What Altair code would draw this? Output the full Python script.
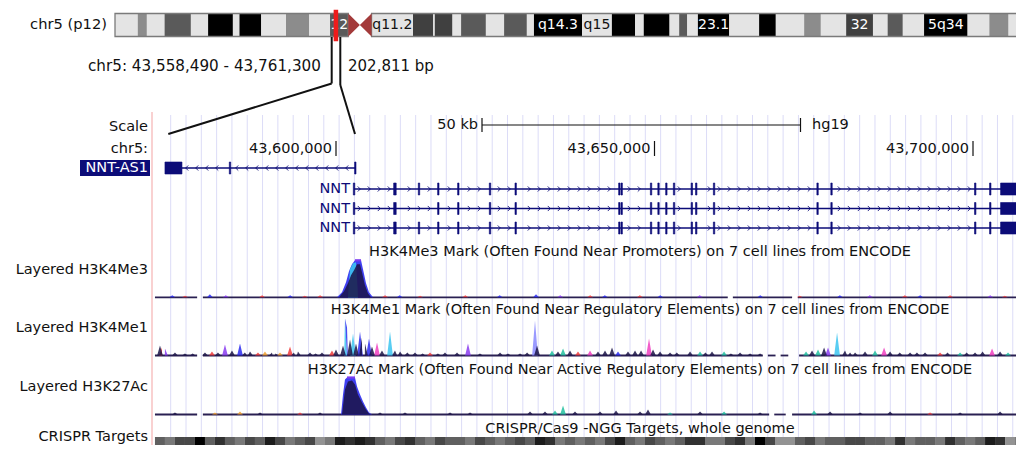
import altair as alt
import pandas as pd

W, H = 1008, 437
FONT = "DejaVu Sans"
NAVY = "#0c0c78"
INK = "#111111"

# ---------------- chromosome ideogram (chr5, hg19, Mb) ----------------
BAND_NAME = ["p15.33","p15.32","p15.31","p15.2","p15.1","p14.3","p14.2","p14.1","p13.3","p13.2",
             "p13.1","p12","p11","q11.1","q11.2","q12.1","q12.2","q12.3","q13.1","q13.2",
             "q13.3","q14.1","q14.2","q14.3","q15","q21.1","q21.2","q21.3","q22.1","q22.2",
             "q22.3","q23.1","q23.2","q23.3","q31.1","q31.2","q31.3","q32","q33.1","q33.2",
             "q33.3","q34","q35.1","q35.2","q35.3"]
BAND_START = [0, 4.5, 6.3, 9.8, 15.0, 18.4, 23.3, 24.6, 28.9, 33.8,
              38.4, 42.5, 46.1, 48.4, 50.7, 58.9, 62.9, 63.2, 66.7, 68.4,
              73.3, 76.9, 81.4, 82.8, 92.3, 98.2, 102.8, 104.5, 109.6, 111.5,
              113.1, 115.2, 121.4, 127.3, 130.6, 136.2, 139.5, 144.5, 149.8, 152.7,
              155.7, 159.9, 168.5, 172.8, 176.6]
CHR_END = 180.915
BAND_STAIN = ["gneg","gpos25","gneg","gpos50","gneg","gpos100","gneg","gpos100","gneg","gpos25",
              "gneg","gpos50","acen","acen","gneg","gpos75","gneg","gpos75","gneg","gpos50",
              "gneg","gpos50","gneg","gpos100","gneg","gpos100","gneg","gpos100","gneg","gpos50",
              "gneg","gpos100","gneg","gpos100","gneg","gpos25","gneg","gpos75","gneg","gpos50",
              "gneg","gpos100","gneg","gpos25","gneg"]
BAND_LABEL = {"p12": "12", "q11.2": "q11.2", "q14.3": "q14.3", "q15": "q15",
              "q23.1": "23.1", "q32": "32", "q34": "5q34"}
STAIN_COLOR = {"gneg": "#e4e4e4", "gpos25": "#8c8c8c", "gpos50": "#5a5a5a",
               "gpos75": "#404040", "gpos100": "#000000", "acen": "#a33a3a"}
WINDOW_MB = [43.55849, 43.76130]
CHROM_TEXT = "chr5 (p12)"
POS_TEXT = "chr5: 43,558,490 - 43,761,300"
SIZE_TEXT = "202,811 bp"

# ---------------- main window (kb) ----------------
X0_KB, X1_KB = 43548.509, 43706.750
SCALEBAR_KB = [43622.92, 43672.92]
TICK_KB = [43600, 43650, 43700]
TICK_LABEL = ["43,600,000", "43,650,000", "43,700,000"]
GUIDE_START_KB = 43574.05
GUIDE_STEP_KB = 2.4035
GUIDE_N = 57

# genes
AS1_SPAN = [43575.82, 43603.14]
AS1_EXONS = [(43573.15, 43575.82), (43583.25, 43583.47), (43602.92, 43603.14)]
NNT_SPAN = [43602.83, 43708.5]
NNT_EXONS = [(43602.72, 43602.95), (43609.05, 43609.45), (43612.92, 43613.14), (43615.95, 43616.17),
             (43619.09, 43619.31), (43624.07, 43624.29), (43628.10, 43628.32), (43644.37, 43644.59),
             (43644.74, 43644.96), (43649.35, 43649.57), (43650.52, 43650.74), (43651.75, 43651.97),
             (43652.96, 43653.18), (43655.75, 43655.97), (43656.44, 43656.66), (43659.24, 43659.46),
             (43675.49, 43675.71), (43677.68, 43677.90), (43700.24, 43700.46), (43702.60, 43702.82),
             (43704.33, 43708.50)]
NNT_SKIP = [[], [2], []]

# histone tracks: colours of the cell lines
CELL_COLOR = {"k": "#1b1446", "b": "#2b2bf0", "c": "#3cc4f0", "t": "#22c0a0", "p": "#8a3cf0",
              "m": "#f040c0", "r": "#f03c3c", "o": "#f0a030", "l": "#8888ff"}

ME3_BLUE_KB = [43600.16, 43600.94, 43601.57, 43602.04, 43602.51, 43602.98, 43603.93, 43604.24, 43604.71, 43605.18, 43605.81]
ME3_BLUE_V = [0, 5, 15, 26, 33, 37, 37, 28, 14, 5, 0]
ME3_CYAN_KB = [43601.88, 43602.20, 43602.67, 43603.14, 43603.38, 43603.45]
ME3_CYAN_V = [0, 28, 34, 35, 10, 0]
ME3_DARK_KB = [43600.47, 43601.26, 43601.88, 43602.36, 43602.83, 43603.30, 43603.77, 43604.08, 43604.55, 43605.02, 43605.50]
ME3_DARK_V = [0, 6, 14, 22, 27, 33, 33, 25, 12, 4, 0]
ME3_CAP_KB = [43602.98, 43603.93]
ME3_CAP_V = 37
ME3_BLIPS = [(43574.3, 2, "b"), (43576.3, 1.5, "r"), (43580.2, 3, "b"), (43582.7, 2, "p"), (43588.4, 2, "r"),
             (43592.8, 2, "b"), (43595.1, 1.5, "r"), (43597.5, 2, "r"), (43607.7, 2, "r"), (43610.0, 2, "b"),
             (43613.2, 1.5, "r"), (43620.3, 2, "r"), (43625.7, 2, "b"), (43631.4, 3, "b"), (43635.2, 2, "p"),
             (43639.9, 2, "r"), (43642.2, 2, "b"), (43647.7, 2, "r"), (43650.9, 2, "b"), (43657.1, 2, "p"),
             (43666.6, 2, "b"), (43672.8, 1.5, "r"), (43679.1, 2, "b"), (43683.8, 2, "p"), (43689.3, 2, "r"),
             (43691.7, 2, "b"), (43696.4, 2, "r"), (43702.7, 2, "p"), (43705.0, 1.5, "r")]
ME3_BASE = [(43571.58, 43578.2), (43579.1, 43661.5), (43662.3, 43671.6), (43672.5, 43708.0)]

ME1_BLIPS = [(43572.37, 10, "k"), (43572.68, 8, "r"), (43573.15, 7, "p"), (43574.72, 3, "k"), (43576.29, 2, "k"),
             (43577.50, 2, "k"),
             (43579.43, 3, "k"), (43580.53, 4, "r"), (43581.47, 3, "k"), (43582.57, 11, "p"), (43583.67, 5, "k"),
             (43584.93, 12, "b"), (43585.70, 3, "k"), (43586.50, 4, "k"), (43587.75, 3, "r"), (43588.85, 4, "o"),
             (43589.95, 3, "k"), (43590.50, 2, "k"),
             (43591.21, 3, "o"), (43592.78, 9, "r"), (43593.40, 3, "k"), (43594.03, 4, "k"), (43595.92, 3, "k"),
             (43596.80, 2, "k"), (43597.80, 3, "k"),
             (43599.37, 5, "r"), (43600.00, 6, "k"), (43601.10, 10, "k"), (43601.41, 37, "c"), (43601.73, 28, "b"),
             (43602.20, 16, "k"), (43602.67, 22, "c"), (43603.14, 12, "k"), (43603.77, 24, "b"), (43604.08, 18, "k"),
             (43604.55, 12, "k"), (43605.18, 17, "b"), (43605.65, 9, "k"), (43606.44, 13, "m"), (43607.22, 5, "k"),
             (43608.48, 24, "c"), (43609.26, 5, "k"), (43610.05, 4, "k"), (43611.20, 3, "k"), (43612.40, 3, "k"),
             (43613.60, 2, "k"), (43614.76, 3, "r"), (43616.00, 2, "k"),
             (43617.11, 3, "k"), (43619.00, 3, "k"), (43620.72, 12, "p"), (43622.60, 2, "k"), (43625.75, 3, "k"),
             (43627.00, 2, "k"), (43628.89, 2, "k"), (43630.00, 3, "k"), (43631.24, 35, "l"),
             (43631.56, 10, "k"), (43633.91, 5, "t"), (43634.85, 4, "k"), (43635.64, 7, "t"), (43636.74, 5, "k"),
             (43637.99, 4, "r"), (43639.88, 5, "m"), (43641.13, 4, "k"), (43642.23, 5, "k"), (43643.33, 8, "k"),
             (43644.27, 4, "b"), (43645.84, 4, "k"), (43646.94, 5, "k"), (43647.89, 5, "k"), (43649.14, 17, "m"),
             (43649.77, 6, "k"), (43650.87, 4, "k"), (43652.44, 3, "k"), (43653.50, 3, "k"), (43655.58, 4, "k"),
             (43657.15, 4, "t"), (43658.00, 3, "k"),
             (43659.03, 4, "k"), (43660.92, 4, "t"), (43662.00, 2, "k"), (43663.43, 3, "k"), (43665.00, 2, "k"),
             (43666.57, 2, "k"),
             (43673.79, 4, "t"), (43674.73, 5, "k"), (43675.67, 6, "t"), (43676.62, 8, "k"), (43677.24, 8, "p"),
             (43678.66, 23, "c"), (43679.91, 5, "k"), (43680.70, 3, "k"), (43681.48, 3, "k"), (43683.05, 4, "k"),
             (43684.62, 5, "t"), (43686.04, 8, "m"), (43686.98, 4, "k"), (43688.50, 3, "k"), (43690.12, 3, "k"),
             (43691.20, 3, "k"), (43692.47, 3, "k"), (43694.83, 3, "r"), (43696.00, 3, "k"),
             (43697.97, 3, "t"), (43699.00, 3, "k"), (43700.32, 3, "k"), (43701.50, 4, "k"), (43702.99, 7, "m"),
             (43704.25, 4, "k"), (43705.50, 3, "t")]
ME1_BASE = [(43571.58, 43578.2), (43579.1, 43667.0), (43667.8, 43669.0), (43669.8, 43671.0), (43672.7, 43708.0)]

K27_BLUE_KB = [43600.79, 43601.10, 43601.41, 43601.73, 43602.98, 43603.30, 43603.77, 43604.24, 43604.71, 43605.18, 43605.65]
K27_BLUE_V = [0, 20, 35, 37, 37, 28, 20, 13, 7, 2, 0]
K27_DARK_KB = [43600.94, 43601.41, 43601.88, 43602.51, 43602.98, 43603.45, 43604.08, 43604.71, 43605.18, 43605.50]
K27_DARK_V = [0, 25, 33, 34, 30, 20, 12, 5, 1, 0]
K27_CAP_KB = [43601.73, 43602.98]
K27_CAP_V = 37
K27_BLIPS = [(43574.72, 2, "k"), (43581.0, 2, "o"), (43584.93, 3, "o"), (43588.07, 2, "k"), (43594.35, 2, "r"),
             (43597.49, 2, "k"), (43606.91, 2, "k"), (43610.83, 2, "k"), (43617.90, 2, "k"), (43621.04, 2, "k"),
             (43630.46, 3, "k"), (43632.81, 3, "k"), (43634.38, 4, "t"), (43635.64, 9, "t"), (43637.52, 3, "k"),
             (43641.45, 3, "k"), (43643.96, 4, "k"), (43647.73, 3, "k"), (43648.98, 5, "k"), (43652.44, 2, "t"),
             (43657.15, 3, "k"), (43660.92, 3, "t"), (43666.57, 2, "k"), (43675.05, 4, "t"), (43677.56, 3, "k"),
             (43682.27, 2, "k"), (43686.98, 3, "k"), (43693.26, 2, "r"), (43697.97, 2, "k"), (43704.25, 3, "k")]
K27_BASE = [(43571.58, 43578.2), (43579.1, 43668.0), (43668.8, 43670.6), (43671.6, 43708.0)]

TRACK_TITLES = ["H3K4Me3 Mark (Often Found Near Promoters) on 7 cell lines from ENCODE",
                "H3K4Me1 Mark (Often Found Near Regulatory Elements) on 7 cell lines from ENCODE",
                "H3K27Ac Mark (Often Found Near Active Regulatory Elements) on 7 cell lines from ENCODE",
                "CRISPR/Cas9 -NGG Targets, whole genome"]
TRACK_LABELS = ["Layered H3K4Me3", "Layered H3K4Me1", "Layered H3K27Ac", "CRISPR Targets"]

# CRISPR dense track: darkness (0 light .. 9 black) per 1.57 kb bin
CRISPR_START_KB = 43571.58
CRISPR_BIN_KB = 1.57
CRISPR_SHADE = [5, 4, 6, 6, 9, 5, 7, 5, 4, 6, 5, 8, 6, 4, 5, 6, 3, 4, 8, 7,
                8, 7, 5, 4, 6, 7, 5, 4, 6, 5, 5, 4, 6, 5, 4, 5, 6, 5, 8, 7,
                4, 5, 4, 5, 4, 6, 8, 5, 4, 6, 5, 4, 5, 7, 7, 4, 4, 6, 7, 4,
                9, 6, 3, 3, 5, 6, 4, 5, 5, 6, 6, 5, 5, 4, 7, 4, 5, 5, 4, 7,
                5, 4, 5, 8, 7, 3, 4]

# ---------------- scales ----------------
GX = alt.Scale(domain=[X0_KB, X1_KB], range=[0, W])
IX = alt.Scale(domain=[0, CHR_END], range=[107, 1022.4])

layers = []
ONE = pd.DataFrame({"a": [0]})


def text(s, x, y, align="left", size=14.5, color=INK):
    return alt.Chart(ONE).mark_text(text=s, font=FONT, fontSize=size, align=align,
                                    baseline="middle", color=color).encode(x=alt.value(x), y=alt.value(y))


def vrule(x, y1, y2, color=INK, width=2):
    return alt.Chart(ONE).mark_rule(color=color, strokeWidth=width).encode(
        x=alt.value(x[0]), x2=alt.value(x[1]), y=alt.value(y1), y2=alt.value(y2))


# guidelines and separator
guide = pd.DataFrame({"kb": [GUIDE_START_KB + GUIDE_STEP_KB * k for k in range(GUIDE_N)]})
layers.append(alt.Chart(guide).mark_rule(color="#dcdcf7", strokeWidth=1).encode(
    x=alt.X("kb:Q", scale=GX, axis=None), y=alt.value(107), y2=alt.value(H)))
layers.append(alt.Chart(ONE).mark_rule(color="#f3a3a3", strokeWidth=1).encode(
    x=alt.value(144), y=alt.value(104), y2=alt.value(H)))

# ideogram
bands = pd.DataFrame({"name": BAND_NAME, "start": BAND_START,
                      "end": BAND_START[1:] + [CHR_END], "stain": BAND_STAIN})
bands["fill"] = bands["stain"].map(STAIN_COLOR)
solid = bands[bands["stain"] != "acen"]
layers.append(alt.Chart(solid).mark_rect().encode(
    x=alt.X("start:Q", scale=IX, axis=None), x2="end:Q",
    y=alt.value(5.5), y2=alt.value(28.5), color=alt.Color("fill:N", scale=None)))
arms = pd.DataFrame({"start": [0, BAND_START[14]], "end": [BAND_START[12], CHR_END]})
layers.append(alt.Chart(arms).mark_rect(filled=False, stroke="#7a7a7a", strokeWidth=1.3).encode(
    x=alt.X("start:Q", scale=IX, axis=None), x2="end:Q", y=alt.value(5.5), y2=alt.value(28.5)))
cen = pd.DataFrame({"mb": [BAND_START[12], BAND_START[13], BAND_START[14]],
                    "lo": [-1, 0, -1], "hi": [1, 0, 1]})
layers.append(alt.Chart(cen).mark_area(color=STAIN_COLOR["acen"]).encode(
    x=alt.X("mb:Q", scale=IX, axis=None),
    y=alt.Y("lo:Q", scale=alt.Scale(domain=[-1, 1], range=[28.5, 5.5]), axis=None), y2="hi:Q"))
lab = bands[bands["name"].isin(BAND_LABEL.keys())].copy()
lab["mid"] = (lab["start"] + lab["end"]) / 2
lab["label"] = lab["name"].map(BAND_LABEL)
lab["tcol"] = lab["stain"].map(lambda s: INK if s == "gneg" else "#ffffff")
layers.append(alt.Chart(lab).mark_text(font=FONT, fontSize=14, baseline="middle").encode(
    x=alt.X("mid:Q", scale=IX, axis=None), y=alt.value(17), text="label:N",
    color=alt.Color("tcol:N", scale=None)))
win = pd.DataFrame({"s": [WINDOW_MB[0]], "e": [WINDOW_MB[1]]})
layers.append(alt.Chart(win).mark_rect(color="#ee1c1c", stroke="#ee1c1c", strokeWidth=3.5).encode(
    x=alt.X("s:Q", scale=IX, axis=None), x2="e:Q", y=alt.value(3.5), y2=alt.value(31.5)))
layers.append(text(CHROM_TEXT, 99, 17, "right", 14.7))
layers.append(text(POS_TEXT, 80, 58, "left", 15.2))
layers.append(text(SIZE_TEXT, 340, 58, "left", 15))

# connectors from the ideogram to the window
layers.append(vrule((323.7, 323.7), 29, 75.5))
layers.append(vrule((323.7, 160.3), 75.5, 126))
layers.append(vrule((332.3, 332.3), 29, 77))
layers.append(vrule((332.3, 347.0), 77, 126))

# ruler
layers.append(text("Scale", 140, 118.5, "right"))
layers.append(text("chr5:", 140, 141.3, "right"))
sb = pd.DataFrame({"s": [SCALEBAR_KB[0]], "e": [SCALEBAR_KB[1]]})
layers.append(alt.Chart(sb).mark_rule(color=INK, strokeWidth=1.2).encode(
    x=alt.X("s:Q", scale=GX, axis=None), x2="e:Q", y=alt.value(117)))
sbe = pd.DataFrame({"kb": SCALEBAR_KB})
layers.append(alt.Chart(sbe).mark_rule(color=INK, strokeWidth=1.2).encode(
    x=alt.X("kb:Q", scale=GX, axis=None), y=alt.value(110), y2=alt.value(124)))
layers.append(text("50 kb", 470, 117, "right"))
layers.append(text("hg19", 804, 117, "left"))
ticks = pd.DataFrame({"kb": TICK_KB, "label": TICK_LABEL})
layers.append(alt.Chart(ticks).mark_rule(color=INK, strokeWidth=1.2).encode(
    x=alt.X("kb:Q", scale=GX, axis=None), y=alt.value(133), y2=alt.value(148)))
layers.append(alt.Chart(ticks).mark_text(font=FONT, fontSize=14.5, align="right", baseline="middle",
                                         dx=-4, color=INK).encode(
    x=alt.X("kb:Q", scale=GX, axis=None), y=alt.value(141.3), text="label:N"))


# genes
def chevrons(span, exons, step=1.57, gap=0.55):
    out = []
    p = span[0] + step / 2
    while p < span[1]:
        if all(not (s - gap <= p <= e + gap) for s, e in exons):
            out.append(p)
        p += step
    return out


def gene_row(span, exons, y, shape):
    line = pd.DataFrame({"s": [span[0]], "e": [span[1]]})
    ex = pd.DataFrame({"s": [a for a, b in exons], "e": [b for a, b in exons]})
    ch = pd.DataFrame({"kb": chevrons(span, exons)})
    return [
        alt.Chart(line).mark_rule(color=NAVY, strokeWidth=1.4).encode(
            x=alt.X("s:Q", scale=GX, axis=None), x2="e:Q", y=alt.value(y)),
        alt.Chart(ch).mark_point(shape=shape, filled=False, size=26, strokeWidth=1, color=NAVY,
                                 opacity=0.85).encode(x=alt.X("kb:Q", scale=GX, axis=None), y=alt.value(y)),
        alt.Chart(ex).mark_rect(color=NAVY, stroke=NAVY, strokeWidth=0.6).encode(
            x=alt.X("s:Q", scale=GX, axis=None), x2="e:Q", y=alt.value(y - 6), y2=alt.value(y + 6)),
    ]


LEFT = "M0.5,-1L-0.5,0L0.5,1"
RIGHT = "M-0.5,-1L0.5,0L-0.5,1"
layers += gene_row(AS1_SPAN, AS1_EXONS, 160, LEFT)
layers.append(alt.Chart(ONE).mark_rect(color=NAVY).encode(
    x=alt.value(72), x2=alt.value(142), y=alt.value(152), y2=alt.value(168)))
layers.append(text("NNT-AS1", 140, 160, "right", 14.5, "#ffffff"))
for i, y in enumerate([181, 200.5, 220]):
    ex = [e for j, e in enumerate(NNT_EXONS) if j not in NNT_SKIP[i]]
    layers += gene_row(NNT_SPAN, ex, y, RIGHT)
    layers.append(text("NNT", 342, y, "right", 14.5, NAVY))


# histone tracks
def yscale(base):
    return alt.Scale(domain=[0, 40], range=[base, base - 40])


def area(xs, vs, color, ys, op=0.9):
    df = pd.DataFrame({"kb": xs, "v": vs})
    return alt.Chart(df).mark_area(color=color, opacity=op).encode(
        x=alt.X("kb:Q", scale=GX, axis=None), y=alt.Y("v:Q", scale=ys, axis=None))


def blips(items, ys, dark, hw=0.45):
    rows = []
    for i, (kb, h, c) in enumerate(items):
        if (c == "k") != dark:
            continue
        for dx, f in ((-hw, 0), (0, 1), (hw, 0)):
            rows.append({"id": i, "kb": kb + dx, "v": h * f, "col": CELL_COLOR[c]})
    df = pd.DataFrame(rows, columns=["id", "kb", "v", "col"])
    return alt.Chart(df).mark_area(opacity=0.85).encode(
        x=alt.X("kb:Q", scale=GX, axis=None), y=alt.Y("v:Q", scale=ys, axis=None),
        detail="id:N", color=alt.Color("col:N", scale=None))


def baseline(segs, y):
    df = pd.DataFrame({"s": [a for a, b in segs], "e": [b for a, b in segs]})
    return alt.Chart(df).mark_rule(color="#2a2052", strokeWidth=1.8).encode(
        x=alt.X("s:Q", scale=GX, axis=None), x2="e:Q", y=alt.value(y))


def cap(xs, v, ys):
    df = pd.DataFrame({"s": [xs[0]], "e": [xs[1]], "v": [v]})
    return alt.Chart(df).mark_rule(color="#7a3cf0", strokeWidth=2.2).encode(
        x=alt.X("s:Q", scale=GX, axis=None), x2="e:Q", y=alt.Y("v:Q", scale=ys, axis=None))


B3, B1, B27 = 289.3, 347.5, 406.5
Y3, Y1, Y27 = yscale(B3), yscale(B1), yscale(B27)
layers += [baseline(ME3_BASE, B3), blips(ME3_BLIPS, Y3, False), blips(ME3_BLIPS, Y3, True),
           area(ME3_BLUE_KB, ME3_BLUE_V, CELL_COLOR["b"], Y3),
           area(ME3_CYAN_KB, ME3_CYAN_V, CELL_COLOR["c"], Y3),
           area(ME3_DARK_KB, ME3_DARK_V, CELL_COLOR["k"], Y3, 0.85),
           cap(ME3_CAP_KB, ME3_CAP_V, Y3)]
layers += [baseline(ME1_BASE, B1), blips(ME1_BLIPS, Y1, False), blips(ME1_BLIPS, Y1, True)]
layers += [baseline(K27_BASE, B27), blips(K27_BLIPS, Y27, False), blips(K27_BLIPS, Y27, True),
           area(K27_BLUE_KB, K27_BLUE_V, CELL_COLOR["b"], Y27),
           area(K27_DARK_KB, K27_DARK_V, CELL_COLOR["k"], Y27, 0.85),
           cap(K27_CAP_KB, K27_CAP_V, Y27)]

# CRISPR
cr = pd.DataFrame({"s": [CRISPR_START_KB + i * CRISPR_BIN_KB for i in range(len(CRISPR_SHADE))],
                   "d": CRISPR_SHADE})
cr["e"] = cr["s"] + CRISPR_BIN_KB
layers.append(alt.Chart(cr).mark_rect().encode(
    x=alt.X("s:Q", scale=GX, axis=None), x2="e:Q", y=alt.value(429), y2=alt.value(445),
    color=alt.Color("d:Q", scale=alt.Scale(domain=[0, 9], range=["#e6e6e6", "#000000"]), legend=None)))

# track titles and labels
for t, y in zip(TRACK_TITLES, [243.5, 302, 362, 421.3]):
    layers.append(text(t, 632, y, "center"))
for t, y in zip(TRACK_LABELS, [262, 320.3, 378.7, 428.5]):
    layers.append(text(t, 140, y, "right"))

chart = alt.layer(*layers).resolve_scale(
    x="independent", y="independent", color="independent"
).properties(
    width=W, height=H, padding=0, autosize=alt.AutoSizeParams(type="none")
).configure_view(stroke=None)

chart.save("out.html", embed_options={"renderer": "svg", "actions": False})
